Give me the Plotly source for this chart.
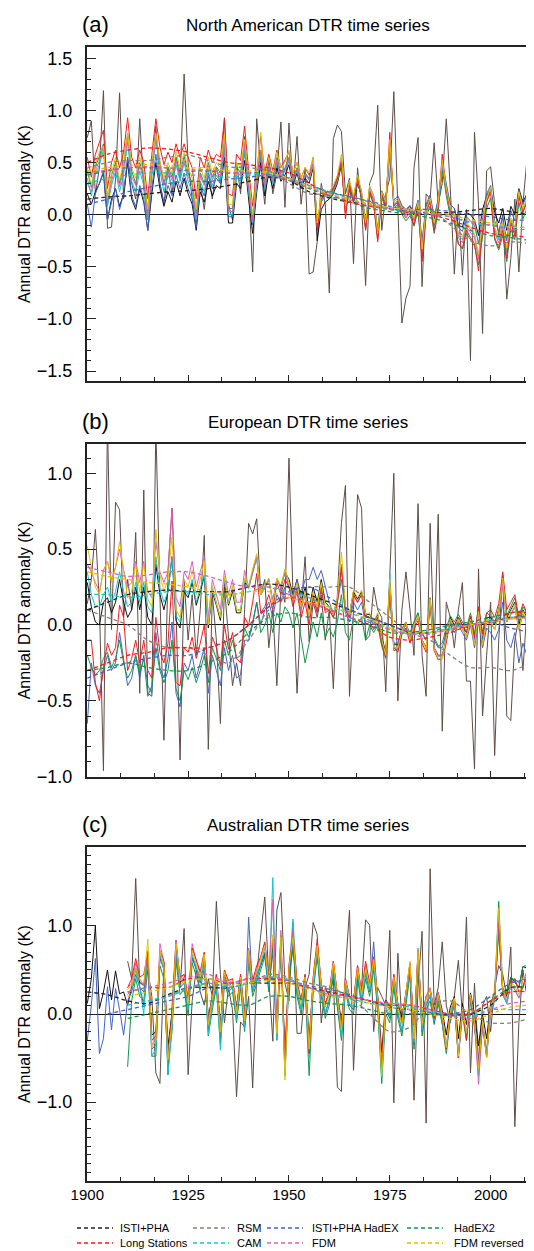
import plotly.graph_objects as go

FONT = "Liberation Sans, Arial, Helvetica, sans-serif"

YEARS = list(range(1900, 2011))
YEARS_5 = list(range(1900, 2011, 5))

# ---------------- (a) North America: annual values ----------------
NA_RSM = [0.74, 0.90, 0.20, 0.45, 1.19, -0.13, -0.12, 0.35, 1.17, 0.15,
          0.55, 0.30, 0.15, 0.92, 0.25, -0.05, 0.40, 0.85, 0.30, 0.10,
          0.45, 0.20, 0.55, 0.35, 1.35, 0.50, 0.15, -0.10, 0.30, 0.05,
          0.40, 0.15, 0.45, 0.30, 0.93, 0.10, -0.05, 0.50, 0.20, 0.75,
          0.25, -0.55, 0.92, 0.45, 0.10, 0.55, 0.20, 0.40, 0.89, 0.07,
          0.88, 0.25, 0.75, 0.10, 0.45, -0.57, -0.55, -0.26, 0.30, 0.10,
          -0.75, 0.73, 0.86, 0.80, 0.20, 0.35, -0.47, 0.45, 0.10, -0.68,
          0.30, 0.40, 1.05, -0.15, 0.20, 0.35, 1.18, 0.05, -1.04, -0.80,
          -0.69, 0.45, 0.74, -0.69, 0.20, 0.15, 0.69, 0.10, 0.30, 0.92,
          0.25, -0.57, 0.10, -0.58, 0.05, -1.40, 0.79, 0.10, -1.14, 0.42,
          0.46, 0.10, -0.20, 0.00, -0.81, -0.42, 0.15, -0.55, 0.10, 0.53,
          -1.40]
NA_ISTI = [0.20, 0.10, 0.22, 0.30, 0.40, -0.05, 0.15, 0.25, 0.08, 0.20,
           0.50, 0.15, 0.05, 0.25, 0.12, -0.15, 0.20, 0.50, 0.25, 0.08,
           0.22, 0.12, 0.32, 0.18, 0.35, 0.20, 0.10, -0.15, 0.22, 0.12,
           0.32, 0.18, 0.28, 0.25, 0.55, -0.08, -0.08, 0.30, 0.25, 0.52,
           0.15, -0.18, 0.22, 0.50, 0.18, 0.40, 0.25, 0.45, 0.32, 0.38,
           0.48, 0.28, 0.40, 0.25, 0.35, 0.30, 0.45, -0.25, 0.05, 0.12,
           0.15, 0.20, 0.30, 0.48, 0.05, 0.25, 0.12, 0.30, 0.18, -0.12,
           0.22, 0.15, -0.18, 0.20, 0.10, 0.62, 0.12, 0.16, 0.08, 0.04,
           0.08, 0.00, 0.12, -0.30, 0.08, 0.16, -0.04, 0.12, 0.45, 0.25,
           0.10, 0.06, -0.10, -0.12, 0.02, 0.00, -0.05, -0.20, 0.05, 0.18,
           0.25, 0.02, -0.08, 0.06, -0.15, 0.08, 0.00, 0.25, 0.12, 0.20,
           -0.20]
NA_HADEX = [0.10, -0.12, 0.20, 0.30, 0.42, -0.05, 0.12, 0.25, 0.05, 0.20,
            0.55, 0.18, 0.08, 0.28, 0.15, -0.15, 0.25, 0.58, 0.30, 0.12,
            0.28, 0.18, 0.38, 0.25, 0.40, 0.25, 0.15, -0.12, 0.28, 0.18,
            0.38, 0.25, 0.35, 0.30, 0.65, -0.02, -0.02, 0.36, 0.32, 0.60,
            0.22, -0.10, 0.28, 0.56, 0.24, 0.44, 0.30, 0.50, 0.36, 0.42,
            0.52, 0.33, 0.43, 0.29, 0.39, 0.34, 0.49, -0.08, 0.16, 0.21,
            0.21, 0.26, 0.36, 0.54, 0.08, 0.31, 0.17, 0.36, 0.22, -0.05,
            0.27, 0.18, -0.14, 0.23, 0.14, 0.66, 0.14, 0.18, 0.09, 0.05,
            0.09, 0.01, 0.14, -0.25, 0.10, 0.19, -0.02, 0.15, 0.50, 0.28,
            0.10, 0.06, -0.12, -0.16, -0.02, -0.06, -0.10, -0.28, -0.02, 0.20,
            0.28, -0.06, -0.16, -0.02, -0.25, 0.04, -0.06, 0.24, 0.10, 0.18,
            -0.30]
NA_HADEX2 = [0.42, 0.26, 0.46, 0.56, 0.68, 0.12, 0.38, 0.50, 0.30, 0.48,
             0.78, 0.42, 0.30, 0.50, 0.36, 0.02, 0.46, 0.75, 0.50, 0.30,
             0.46, 0.36, 0.55, 0.40, 0.56, 0.40, 0.30, 0.02, 0.40, 0.30,
             0.50, 0.36, 0.46, 0.40, 0.74, 0.06, 0.06, 0.46, 0.40, 0.68,
             0.30, -0.04, 0.35, 0.62, 0.30, 0.50, 0.35, 0.55, 0.40, 0.45,
             0.55, 0.35, 0.45, 0.30, 0.40, 0.35, 0.48, -0.12, 0.12, 0.18,
             0.18, 0.22, 0.32, 0.52, 0.02, 0.26, 0.12, 0.32, 0.16, -0.14,
             0.20, 0.10, -0.24, 0.16, 0.06, 0.66, 0.06, 0.10, 0.00, -0.06,
             -0.01, -0.11, 0.04, -0.42, -0.02, 0.08, -0.18, 0.03, 0.45, 0.18,
             -0.02, -0.08, -0.28, -0.33, -0.18, -0.24, -0.30, -0.48, -0.20, 0.06,
             0.16, -0.24, -0.34, -0.20, -0.45, -0.14, -0.24, 0.12, -0.04, 0.06,
             -0.56]
NA_LONG = [0.55, 0.36, 0.58, 0.70, 0.81, 0.25, 0.50, 0.62, 0.45, 0.60,
           0.93, 0.55, 0.45, 0.62, 0.50, 0.15, 0.58, 0.92, 0.65, 0.48,
           0.60, 0.50, 0.68, 0.55, 0.68, 0.55, 0.45, 0.15, 0.55, 0.45,
           0.62, 0.50, 0.58, 0.55, 0.92, 0.20, 0.18, 0.58, 0.52, 0.85,
           0.42, 0.08, 0.45, 0.75, 0.40, 0.58, 0.42, 0.62, 0.45, 0.52,
           0.60, 0.40, 0.50, 0.35, 0.45, 0.38, 0.55, -0.15, 0.15, 0.20,
           0.18, 0.25, 0.35, 0.50, -0.04, 0.28, 0.12, 0.35, 0.18, -0.15,
           0.22, 0.10, -0.26, 0.18, 0.08, 0.79, 0.08, 0.12, 0.02, -0.03,
           0.02, -0.10, 0.08, -0.45, 0.02, 0.12, -0.15, 0.08, 0.58, 0.25,
           0.02, -0.05, -0.28, -0.32, -0.15, -0.22, -0.28, -0.54, -0.15, 0.12,
           0.22, -0.22, -0.32, -0.15, -0.42, -0.08, -0.20, 0.18, 0.02, 0.12,
           -0.57]
NA_CAM = [0.35, 0.18, 0.38, 0.48, 0.62, 0.08, 0.28, 0.42, 0.22, 0.38,
          0.70, 0.32, 0.22, 0.42, 0.28, -0.05, 0.38, 0.72, 0.42, 0.22,
          0.38, 0.28, 0.48, 0.32, 0.50, 0.32, 0.22, -0.05, 0.32, 0.22,
          0.42, 0.28, 0.38, 0.32, 0.70, 0.00, 0.00, 0.38, 0.32, 0.62,
          0.22, -0.08, 0.28, 0.60, 0.25, 0.45, 0.30, 0.52, 0.36, 0.42,
          0.52, 0.32, 0.42, 0.28, 0.38, 0.33, 0.48, -0.12, 0.13, 0.18,
          0.18, 0.23, 0.33, 0.52, 0.04, 0.28, 0.14, 0.33, 0.18, -0.12,
          0.23, 0.14, -0.20, 0.18, 0.09, 0.66, 0.09, 0.14, 0.05, 0.00,
          0.05, -0.05, 0.09, -0.35, 0.05, 0.14, -0.10, 0.09, 0.48, 0.24,
          0.05, 0.00, -0.20, -0.24, -0.10, -0.14, -0.20, -0.40, -0.10, 0.14,
          0.24, -0.14, -0.24, -0.10, -0.34, -0.05, -0.14, 0.19, 0.05, 0.14,
          -0.44]
NA_FDM = [0.30, 0.22, 0.42, 0.52, 0.66, 0.12, 0.32, 0.47, 0.27, 0.42,
          0.76, 0.37, 0.28, 0.47, 0.33, -0.02, 0.43, 0.76, 0.47, 0.28,
          0.43, 0.33, 0.52, 0.37, 0.52, 0.37, 0.28, -0.02, 0.37, 0.28,
          0.47, 0.33, 0.43, 0.37, 0.72, 0.03, 0.03, 0.43, 0.37, 0.66,
          0.28, -0.06, 0.33, 0.62, 0.28, 0.48, 0.33, 0.53, 0.38, 0.44,
          0.54, 0.34, 0.44, 0.29, 0.39, 0.34, 0.49, -0.11, 0.14, 0.19,
          0.19, 0.24, 0.34, 0.54, 0.05, 0.29, 0.14, 0.34, 0.19, -0.11,
          0.24, 0.14, -0.21, 0.19, 0.09, 0.69, 0.09, 0.14, 0.04, -0.01,
          0.04, -0.06, 0.09, -0.37, 0.04, 0.14, -0.11, 0.09, 0.50, 0.24,
          0.04, -0.01, -0.22, -0.27, -0.12, -0.17, -0.22, -0.43, -0.12, 0.13,
          0.23, -0.17, -0.27, -0.12, -0.37, -0.07, -0.17, 0.18, 0.03, 0.13,
          -0.48]
NA_FDMR = [0.45, 0.28, 0.48, 0.60, 0.66, 0.15, 0.40, 0.55, 0.33, 0.50,
           0.78, 0.45, 0.35, 0.55, 0.40, 0.05, 0.50, 0.78, 0.52, 0.35,
           0.50, 0.40, 0.60, 0.45, 0.60, 0.45, 0.35, 0.05, 0.45, 0.35,
           0.55, 0.40, 0.50, 0.45, 0.78, 0.10, 0.10, 0.50, 0.45, 0.72,
           0.35, 0.00, 0.40, 0.79, 0.35, 0.55, 0.40, 0.60, 0.45, 0.50,
           0.62, 0.40, 0.50, 0.35, 0.45, 0.40, 0.55, -0.08, 0.18, 0.22,
           0.22, 0.28, 0.38, 0.58, 0.08, 0.33, 0.18, 0.38, 0.22, -0.08,
           0.28, 0.18, -0.18, 0.22, 0.12, 0.72, 0.12, 0.16, 0.07, 0.02,
           0.06, -0.03, 0.12, -0.33, 0.06, 0.16, -0.08, 0.12, 0.52, 0.26,
           0.06, 0.01, -0.18, -0.22, -0.08, -0.12, -0.18, -0.38, -0.08, 0.16,
           0.26, -0.12, -0.22, -0.08, -0.32, -0.03, -0.12, 0.22, 0.06, 0.16,
           -0.42]

# (a) smoothed values, every 5 years
NA_ISTI_S = [0.15, 0.17, 0.18, 0.20, 0.22, 0.23, 0.25, 0.28, 0.32, 0.36, 0.33, 0.22,
             0.16, 0.12, 0.10, 0.06, 0.03, 0.02, 0.02, 0.04, 0.06, 0.03, 0.00]
NA_RSM_S = [0.45, 0.50, 0.52, 0.52, 0.55, 0.57, 0.52, 0.46, 0.45, 0.42, 0.30, 0.20,
            0.20, 0.18, 0.12, 0.06, 0.02, 0.05, -0.10, -0.25, -0.30, -0.26, -0.28]
NA_HADEX_S = [0.10, 0.15, 0.22, 0.26, 0.30, 0.32, 0.32, 0.34, 0.36, 0.38, 0.35, 0.28,
              0.22, 0.17, 0.13, 0.08, 0.05, 0.05, 0.03, 0.00, -0.02, -0.05, -0.05]
NA_HADEX2_S = [0.38, 0.42, 0.45, 0.45, 0.45, 0.42, 0.42, 0.40, 0.40, 0.40, 0.35, 0.25,
               0.18, 0.12, 0.06, 0.03, 0.00, -0.03, -0.08, -0.15, -0.20, -0.22, -0.25]
NA_LONG_S = [0.50, 0.58, 0.62, 0.64, 0.63, 0.60, 0.55, 0.50, 0.48, 0.45, 0.40, 0.30,
             0.20, 0.12, 0.08, 0.05, 0.02, 0.00, -0.05, -0.12, -0.18, -0.20, -0.22]
NA_CAM_S = [0.30, 0.35, 0.38, 0.40, 0.40, 0.38, 0.38, 0.36, 0.38, 0.38, 0.35, 0.28,
            0.22, 0.15, 0.10, 0.05, 0.03, 0.00, -0.02, -0.08, -0.10, -0.12, -0.12]
NA_FDM_S = [0.40, 0.43, 0.45, 0.46, 0.45, 0.43, 0.43, 0.40, 0.40, 0.38, 0.33, 0.26,
            0.19, 0.14, 0.09, 0.06, 0.04, 0.01, -0.02, -0.07, -0.10, -0.14, -0.14]
NA_FDMR_S = [0.42, 0.45, 0.47, 0.48, 0.47, 0.45, 0.45, 0.42, 0.42, 0.40, 0.35, 0.27,
             0.20, 0.15, 0.10, 0.07, 0.05, 0.02, 0.00, -0.05, -0.08, -0.12, -0.12]

# ---------------- (b) Europe: annual values ----------------
EU_RSM = [0.14, 0.30, 0.63, 0.14, -0.96, 1.35, -0.03, 0.81, 0.76, 0.05,
          0.30, 0.10, 0.61, -0.45, 0.89, -0.45, -0.47, 1.30, 0.20, -0.76,
          0.35, 0.77, 0.10, -0.89, 0.30, -0.10, 0.20, -0.20, 0.10, 0.59,
          -0.82, 0.20, -0.10, -0.65, 0.25, -0.05, -0.40, -0.25, -0.40, 0.10,
          0.67, 0.60, 0.70, 0.20, 0.30, -0.15, 0.10, -0.40, 0.25, 0.15,
          1.10, 0.20, -0.45, 0.10, 0.45, -0.11, 0.15, 0.05, 0.20, -0.10,
          0.10, -0.42, 0.20, 0.67, 0.92, -0.47, 0.10, 0.86, 0.77, -0.10,
          -0.07, 0.25, 0.10, 0.05, -0.44, 0.33, 1.00, -0.50, 0.10, 0.35,
          0.10, -0.20, 0.80, -0.20, -0.47, 0.67, -0.16, 0.73, -0.70, 0.15,
          0.05, -0.15, 0.10, 0.28, -0.37, -0.37, -0.95, 0.37, -0.60, -0.20,
          0.15, -0.86, -0.10, 0.33, -0.60, -0.63, -0.10, 0.05, -0.30, 0.10,
          -0.50]
EU_ISTI = [0.28, 0.12, 0.02, 0.00, 0.15, 0.18, 0.08, 0.15, 0.30, 0.15,
           0.05, 0.10, 0.25, 0.10, 0.25, 0.05, 0.00, 0.40, 0.20, 0.10,
           0.22, 0.45, 0.03, -0.02, 0.22, 0.18, 0.28, 0.13, 0.22, 0.32,
           -0.02, 0.22, 0.13, 0.03, 0.28, 0.13, 0.22, 0.08, 0.08, 0.28,
           0.25, 0.35, 0.45, 0.20, 0.25, 0.30, 0.15, 0.30, 0.25, 0.35,
           0.30, 0.20, 0.30, 0.15, 0.25, 0.10, 0.25, 0.15, 0.30, 0.15,
           0.12, 0.07, 0.17, 0.37, 0.12, 0.07, 0.22, 0.17, 0.22, 0.07,
           0.07, 0.02, 0.07, -0.08, -0.18, 0.27, -0.13, -0.13, -0.03, 0.02,
           -0.10, 0.00, 0.05, -0.10, -0.15, 0.15, -0.15, -0.20, -0.20, -0.10,
           0.05, 0.00, 0.05, 0.00, -0.05, 0.05, -0.10, 0.10, -0.10, 0.05,
           0.05, 0.00, 0.10, 0.30, 0.05, 0.10, 0.15, 0.00, 0.10, 0.05,
           0.10]
EU_HADEX = [-0.65, -0.25, -0.40, -0.45, -0.30, -0.20, -0.30, -0.25, -0.05, -0.22,
            -0.40, -0.35, -0.20, -0.35, -0.20, -0.40, -0.45, -0.05, -0.28, -0.35,
            -0.22, 0.02, -0.45, -0.54, -0.25, -0.30, -0.20, -0.35, -0.25, -0.15,
            -0.45, -0.20, -0.30, -0.40, -0.15, -0.30, -0.20, -0.35, -0.33, -0.10,
            -0.10, 0.00, 0.15, 0.00, 0.10, 0.15, 0.05, 0.20, 0.15, 0.25,
            0.25, 0.20, 0.30, 0.20, 0.30, 0.30, 0.38, 0.30, 0.36, 0.25,
            0.15, 0.08, 0.15, 0.30, 0.08, 0.02, 0.15, 0.10, 0.15, 0.00,
            0.02, -0.03, 0.02, -0.12, -0.20, 0.20, -0.12, -0.12, -0.03, 0.00,
            -0.05, 0.02, 0.08, -0.05, -0.10, 0.15, -0.10, -0.15, -0.15, -0.05,
            0.00, -0.05, 0.00, -0.05, -0.10, 0.00, -0.15, 0.02, -0.15, -0.02,
            -0.05, -0.10, -0.03, 0.15, -0.10, -0.15, -0.05, -0.25, -0.12, -0.20,
            -0.05]
EU_HADEX2 = [-0.20, -0.28, -0.33, -0.30, -0.22, -0.18, -0.28, -0.22, -0.10, -0.25,
             -0.35, -0.30, -0.20, -0.32, -0.22, -0.47, -0.40, -0.15, -0.30, -0.38,
             -0.30, -0.10, -0.42, -0.50, -0.30, -0.36, -0.28, -0.38, -0.30, -0.20,
             -0.38, -0.15, -0.22, -0.30, -0.10, -0.20, -0.10, -0.22, -0.20, -0.02,
             -0.08, 0.02, 0.15, -0.05, 0.00, 0.08, -0.05, 0.08, 0.02, 0.12,
             0.08, -0.02, 0.08, -0.10, -0.25, -0.12, 0.02, -0.08, 0.08, -0.08,
             -0.02, -0.08, 0.02, 0.20, -0.05, -0.10, 0.05, 0.00, 0.05, -0.10,
             0.00, -0.05, 0.00, -0.14, -0.22, 0.20, -0.17, -0.16, -0.06, -0.02,
             -0.08, 0.02, 0.08, -0.06, -0.10, 0.18, -0.08, -0.14, -0.12, -0.02,
             0.06, 0.02, 0.07, 0.02, -0.02, 0.08, -0.06, 0.12, -0.05, 0.08,
             0.06, 0.02, 0.10, 0.30, 0.06, 0.12, 0.18, 0.02, 0.12, 0.08,
             0.15]
EU_LONG = [-0.10, -0.10, -0.38, -0.50, -0.28, -0.12, -0.20, -0.15, 0.13, 0.05,
           -0.30, -0.22, -0.10, -0.25, -0.10, -0.30, -0.35, 0.05, -0.18, -0.25,
           -0.12, 0.29, -0.38, -0.40, -0.15, -0.18, -0.08, -0.22, -0.12, 0.00,
           -0.32, -0.08, -0.15, -0.27, 0.00, -0.16, -0.05, -0.22, -0.25, 0.05,
           0.00, 0.15, 0.34, 0.08, 0.12, 0.20, 0.10, 0.28, 0.20, 0.30,
           0.25, 0.12, 0.22, 0.05, 0.15, 0.00, 0.18, 0.08, 0.25, 0.08,
           0.10, 0.05, 0.15, 0.38, 0.10, 0.05, 0.20, 0.15, 0.20, 0.05,
           0.05, 0.00, 0.05, -0.12, -0.21, 0.28, -0.15, -0.18, -0.06, -0.02,
           -0.12, -0.03, 0.03, -0.12, -0.18, 0.14, -0.17, -0.23, -0.22, -0.12,
           0.04, -0.01, 0.05, 0.00, -0.05, 0.06, -0.08, 0.12, -0.06, 0.08,
           0.10, 0.05, 0.14, 0.35, 0.10, 0.15, 0.20, 0.05, 0.14, 0.08,
           0.18]
EU_CAM = [0.35, 0.20, 0.12, 0.12, 0.20, 0.25, 0.15, 0.22, 0.35, 0.22,
          0.12, 0.15, 0.28, 0.15, 0.28, 0.12, 0.08, 0.45, 0.24, 0.15,
          0.22, 0.45, 0.06, 0.02, 0.24, 0.20, 0.30, 0.15, 0.24, 0.33,
          0.00, 0.24, 0.15, 0.05, 0.30, 0.15, 0.24, 0.10, 0.10, 0.30,
          0.24, 0.35, 0.44, 0.20, 0.24, 0.30, 0.15, 0.30, 0.24, 0.35,
          0.25, 0.15, 0.25, 0.10, 0.20, 0.05, 0.20, 0.10, 0.25, 0.10,
          0.10, 0.05, 0.15, 0.38, 0.10, 0.05, 0.20, 0.15, 0.20, 0.05,
          0.05, 0.00, 0.05, -0.10, -0.20, 0.34, -0.15, -0.16, -0.05, 0.00,
          -0.10, 0.00, 0.05, -0.10, -0.15, 0.16, -0.15, -0.21, -0.20, -0.10,
          0.03, -0.02, 0.03, -0.02, -0.07, 0.03, -0.12, 0.08, -0.12, 0.03,
          0.02, -0.03, 0.07, 0.28, 0.02, 0.07, 0.12, -0.03, 0.07, 0.02,
          0.16]
EU_FDM = [0.40, 0.35, 0.28, 0.22, 0.36, 0.42, 0.30, 0.38, 0.50, 0.36,
          0.25, 0.28, 0.42, 0.28, 0.42, 0.22, 0.18, 0.55, 0.35, 0.28,
          0.35, 0.77, 0.18, 0.12, 0.35, 0.30, 0.42, 0.25, 0.35, 0.45,
          0.05, 0.30, 0.20, 0.10, 0.36, 0.20, 0.30, 0.15, 0.15, 0.36,
          0.25, 0.35, 0.45, 0.20, 0.25, 0.30, 0.15, 0.30, 0.25, 0.35,
          0.25, 0.15, 0.25, 0.10, 0.20, 0.05, 0.20, 0.10, 0.25, 0.10,
          0.10, 0.05, 0.15, 0.40, 0.10, 0.05, 0.20, 0.15, 0.20, 0.05,
          0.05, 0.00, 0.05, -0.10, -0.20, 0.25, -0.15, -0.15, -0.05, 0.00,
          -0.10, 0.00, 0.05, -0.10, -0.15, 0.15, -0.15, -0.20, -0.20, -0.10,
          0.02, -0.03, 0.02, -0.03, -0.08, 0.02, -0.13, 0.07, -0.13, 0.02,
          0.02, -0.03, 0.07, 0.27, 0.02, 0.07, 0.12, -0.03, 0.07, 0.02,
          0.17]
EU_FDMR = [0.52, 0.38, 0.25, 0.20, 0.36, 0.42, 0.28, 0.38, 0.55, 0.36,
           0.18, 0.22, 0.40, 0.22, 0.40, 0.17, 0.12, 0.63, 0.33, 0.22,
           0.30, 0.58, 0.10, 0.05, 0.30, 0.25, 0.36, 0.20, 0.30, 0.42,
           0.00, 0.26, 0.14, 0.05, 0.32, 0.14, 0.26, 0.10, 0.09, 0.31,
           0.26, 0.37, 0.47, 0.20, 0.26, 0.31, 0.14, 0.31, 0.26, 0.37,
           0.28, 0.17, 0.28, 0.12, 0.22, 0.06, 0.22, 0.12, 0.28, 0.12,
           0.12, 0.07, 0.18, 0.48, 0.12, 0.07, 0.23, 0.18, 0.23, 0.07,
           0.08, 0.02, 0.08, -0.09, -0.20, 0.30, -0.15, -0.15, -0.04, 0.02,
           -0.10, 0.00, 0.06, -0.10, -0.16, 0.17, -0.16, -0.22, -0.22, -0.10,
           0.04, -0.02, 0.04, -0.02, -0.08, 0.04, -0.13, 0.09, -0.13, 0.04,
           0.03, -0.03, 0.09, 0.31, 0.03, 0.09, 0.14, -0.03, 0.09, 0.03,
           0.21]

EU_ISTI_S = [0.10, 0.15, 0.20, 0.22, 0.23, 0.22, 0.22, 0.22, 0.25, 0.27, 0.25, 0.20,
             0.15, 0.10, 0.05, 0.00, -0.05, -0.05, -0.03, 0.00, 0.02, 0.05, 0.05]
EU_RSM_S = [0.10, 0.05, 0.00, -0.10, -0.15, -0.15, -0.20, -0.25, -0.10, 0.10, 0.20, 0.25,
            0.25, 0.25, 0.15, 0.05, -0.05, -0.10, -0.20, -0.28, -0.28, -0.30, -0.25]
EU_HADEX_S = [-0.35, -0.30, -0.25, -0.22, -0.20, -0.20, -0.15, -0.10, 0.00, 0.12, 0.22, 0.25,
              0.18, 0.10, 0.05, 0.00, -0.05, -0.05, 0.00, 0.00, 0.02, -0.02, -0.05]
EU_HADEX2_S = [-0.30, -0.28, -0.25, -0.28, -0.30, -0.30, -0.25, -0.18, -0.05, 0.05, 0.08, 0.05,
               0.05, 0.03, 0.00, -0.05, -0.05, -0.03, 0.00, 0.02, 0.05, 0.08, 0.10]
EU_LONG_S = [-0.30, -0.25, -0.20, -0.18, -0.15, -0.15, -0.15, -0.10, 0.00, 0.12, 0.18, 0.15,
             0.10, 0.05, 0.00, -0.08, -0.10, -0.08, -0.05, 0.00, 0.02, 0.08, 0.08]
EU_CAM_S = [0.20, 0.20, 0.18, 0.20, 0.22, 0.22, 0.20, 0.20, 0.22, 0.25, 0.22, 0.18,
            0.12, 0.08, 0.03, -0.03, -0.06, -0.05, -0.02, 0.00, 0.03, 0.05, 0.05]
EU_FDM_S = [0.38, 0.35, 0.32, 0.33, 0.35, 0.35, 0.32, 0.28, 0.25, 0.25, 0.20, 0.15,
            0.10, 0.05, 0.02, -0.03, -0.06, -0.06, -0.03, 0.00, 0.02, 0.04, 0.05]
EU_FDMR_S = [0.35, 0.32, 0.30, 0.28, 0.27, 0.25, 0.22, 0.20, 0.22, 0.22, 0.18, 0.15,
             0.12, 0.08, 0.04, -0.02, -0.05, -0.05, -0.03, 0.00, 0.02, 0.04, 0.05]

# ---------------- (c) Australia: annual values ----------------
AU_RSM = [None] * 10 + [
          0.60, 0.40, 1.54, 0.31, 0.10, 0.50, 0.20, -0.67, -0.79, 0.58,
          -0.69, 0.10, 0.84, 0.30, 0.97, -0.69, 0.15, 0.50, 0.25, 0.10,
          0.40, 0.20, 1.28, 0.45, -0.10, 0.30, 0.05, -0.94, -0.09, -0.15,
          0.20, -0.84, 0.45, 0.90, 1.33, 0.40, -0.31, 1.18, 1.38, 0.35,
          0.15, 1.04, -0.22, -0.22, 0.30, 0.45, 1.04, 0.90, -0.10, 0.30,
          0.20, 0.40, -0.83, -0.88, 0.50, 1.18, -0.64, 0.40, 0.30, 1.07,
          1.01, -0.20, 0.30, 0.20, 0.10, 0.95, -1.01, 0.69, -0.10, 0.20,
          0.50, -0.98, 0.30, 0.94, -1.24, 1.65, 0.10, 0.30, 0.82, 0.10,
          -0.10, 0.20, 0.61, 0.00, 1.10, -0.67, 0.35, -0.56, 0.10, 0.20,
          -0.20, 0.30, 0.55, 0.45, 0.20, 0.76, -1.28, -0.10, 0.50, 0.20,
          -0.40]
AU_ISTI = [0.12, 0.40, 1.00, 0.06, 0.25, 0.50, 0.16, 0.49, 0.23, 0.25,
           0.10, 0.32, 0.52, 0.36, 0.32, 0.68, -0.24, -0.20, 0.64, 0.52,
           -0.36, 0.00, 0.68, 0.36, 0.40, 0.16, 0.64, 0.52, 0.40, 0.60,
           -0.04, 0.20, 0.40, -0.12, 0.44, 0.32, 0.36, 0.08, 0.40, 0.00,
           0.64, 0.32, 0.44, 0.56, 0.68, 0.36, 0.75, -0.12, 0.76, -0.44,
           0.48, 0.76, 0.32, 0.16, 0.40, -0.28, 0.36, 0.68, 0.32, 0.12,
           0.24, 0.52, 0.24, -0.08, 0.36, 0.20, 0.16, 0.48, 0.24, 0.48,
           0.32, 0.56, 0.20, -0.44, 0.16, 0.08, 0.40, 0.12, -0.04, 0.24,
           0.52, -0.16, 0.64, -0.04, 0.20, 0.28, 0.04, 0.24, 0.04, -0.24,
           0.08, 0.20, -0.28, 0.12, -0.12, 0.24, 0.00, -0.36, 0.00, -0.28,
           0.12, 0.24, 0.96, 0.28, 0.20, 0.42, 0.36, 0.30, 0.54, 0.52,
           -0.30]
AU_HADEX = [-0.30, 0.10, 0.63, -0.45, -0.28, 0.31, -0.18, 0.29, 0.05, -0.24,
            0.15, 0.25, 0.45, 0.30, 0.25, 0.60, -0.40, -0.35, 0.65, 0.50,
            -0.55, -0.12, 0.70, 0.30, 0.35, 0.05, 0.65, 0.50, 0.35, 0.60,
            -0.18, 0.10, 0.35, -0.28, 0.40, 0.25, 0.30, -0.05, 0.35, -0.12,
            1.10, 0.25, 0.40, 0.55, 0.70, 0.30, 0.70, -0.30, 0.80, -0.65,
            0.45, 0.80, 0.25, 0.05, 0.35, -0.45, 0.30, 0.70, 0.25, 0.00,
            0.15, 0.50, 0.15, -0.25, 0.30, 0.10, 0.05, 0.45, 0.15, 0.45,
            0.25, 0.82, 0.10, -0.65, 0.05, -0.05, 0.35, 0.00, -0.20, 0.15,
            0.50, -0.35, 0.65, -0.20, 0.10, 0.20, -0.10, 0.15, -0.10, -0.40,
            -0.05, 0.10, -0.45, 0.00, -0.25, 0.15, -0.15, -0.55, -0.15, -0.45,
            0.00, 0.15, 1.00, 0.22, 0.12, 0.35, 0.40, 0.35, 0.40, 0.35,
            -0.26]
AU_HADEX2 = [None] * 10 + [
             -0.60, 0.15, 0.40, 0.20, 0.15, 0.65, -0.48, -0.48, 0.55, 0.40,
             -0.60, -0.20, 0.60, 0.22, 0.28, -0.02, 0.58, 0.42, 0.28, 0.52,
             -0.25, 0.05, 0.30, -0.35, 0.35, 0.20, 0.25, -0.10, 0.30, -0.20,
             0.60, 0.20, 0.35, 0.50, 0.65, 0.25, 0.80, -0.18, 0.75, -0.70,
             0.40, 0.75, 0.20, 0.00, 0.30, -0.70, 0.25, 0.65, 0.20, -0.05,
             0.10, 0.45, 0.10, -0.30, 0.25, 0.05, 0.00, 0.40, 0.10, 0.40,
             0.20, 0.50, 0.05, -0.79, 0.00, -0.10, 0.30, -0.05, -0.25, 0.10,
             0.45, -0.40, 0.60, -0.25, 0.05, 0.15, -0.12, 0.12, -0.12, -0.45,
             -0.05, 0.10, -0.50, 0.00, -0.30, 0.15, -0.12, -0.58, -0.10, -0.42,
             0.10, 0.25, 1.28, 0.30, 0.22, 0.42, 0.38, 0.30, 0.54, 0.55,
             -0.60]
AU_LONG = [None] * 10 + [
           0.30, 0.40, 0.63, 0.42, 0.45, 0.70, -0.30, -0.25, 0.72, 0.60,
           -0.45, -0.02, 0.78, 0.42, 0.45, 0.18, 0.75, 0.62, 0.48, 0.70,
           -0.08, 0.22, 0.45, -0.15, 0.50, 0.38, 0.40, 0.08, 0.45, -0.02,
           0.72, 0.38, 0.55, 0.65, 0.82, 0.42, 0.85, -0.15, 0.88, -0.55,
           0.55, 0.88, 0.38, 0.15, 0.45, -0.45, 0.42, 0.85, 0.35, 0.10,
           0.25, 0.60, 0.25, -0.15, 0.40, 0.20, 0.15, 0.55, 0.25, 0.60,
           0.35, 0.65, 0.20, -0.60, 0.15, 0.05, 0.45, 0.10, -0.10, 0.25,
           0.58, -0.25, 0.72, -0.12, 0.18, 0.28, -0.05, 0.22, -0.05, -0.40,
           0.02, 0.18, -0.50, 0.08, -0.30, 0.22, -0.10, -0.60, -0.12, -0.48,
           0.08, 0.22, 1.05, 0.28, 0.18, 0.38, 0.40, 0.25, 0.30, 0.50,
           -0.55]
AU_CAM = [None] * 10 + [
          0.22, 0.28, 0.50, 0.30, 0.00, 0.70, -0.48, -0.40, 0.68, 0.50,
          -0.69, -0.15, 0.72, 0.32, 0.38, 0.05, 0.68, 0.52, 0.38, 0.62,
          -0.24, 0.10, 0.38, -0.41, 0.42, 0.28, 0.32, -0.05, 0.38, -0.15,
          0.68, 0.28, 0.42, 0.58, 0.75, 0.32, 1.55, -0.28, 0.90, -0.70,
          0.48, 1.08, 0.28, 0.05, 0.38, -0.50, 0.32, 0.72, 0.28, 0.02,
          0.18, 0.52, 0.18, -0.25, 0.32, 0.12, 0.08, 0.48, 0.18, 0.48,
          0.28, 0.58, 0.12, -0.72, 0.08, -0.02, 0.38, 0.02, -0.18, 0.18,
          0.52, -0.32, 0.75, -0.18, 0.12, 0.22, -0.08, 0.18, -0.08, -0.42,
          -0.02, 0.12, -0.48, 0.02, -0.28, 0.18, -0.12, -0.70, -0.12, -0.48,
          0.02, 0.18, 1.10, 0.22, 0.12, 0.32, 0.28, 0.18, 0.32, 0.42,
          -0.90]
AU_FDM = [None] * 10 + [
          0.30, 0.35, 0.58, 0.40, 0.32, 0.72, -0.35, -0.30, 0.80, 0.58,
          -0.50, -0.05, 0.84, 0.40, 0.45, 0.15, 0.80, 0.60, 0.45, 0.70,
          -0.10, 0.20, 0.45, -0.20, 0.50, 0.35, 0.40, 0.05, 0.45, -0.05,
          0.75, 0.35, 0.50, 0.65, 0.80, 0.40, 1.30, -0.20, 0.95, -0.60,
          0.55, 0.95, 0.35, 0.15, 0.45, -0.40, 0.40, 0.80, 0.35, 0.10,
          0.25, 0.60, 0.25, -0.15, 0.40, 0.20, 0.15, 0.55, 0.25, 0.55,
          0.35, 0.65, 0.20, -0.60, 0.15, 0.05, 0.45, 0.10, -0.10, 0.25,
          0.58, -0.25, 0.72, -0.10, 0.20, 0.30, 0.00, 0.25, 0.00, -0.38,
          0.02, 0.18, -0.45, 0.05, -0.25, 0.20, -0.10, -0.80, -0.10, -0.50,
          0.05, 0.20, 1.05, 0.25, 0.15, 0.32, 0.28, 0.18, 0.30, 0.42,
          -0.80]
AU_FDMR = [None] * 10 + [
           0.28, 0.32, 0.52, 0.38, 0.35, 0.85, -0.38, -0.30, 0.72, 0.55,
           -0.52, -0.08, 0.80, 0.38, 0.42, 0.12, 0.72, 0.58, 0.42, 0.68,
           -0.12, 0.18, 0.42, -0.20, 0.48, 0.32, 0.38, 0.02, 0.42, -0.08,
           0.72, 0.32, 0.48, 0.62, 0.78, 0.38, 0.90, -0.22, 0.88, -0.75,
           0.52, 0.88, 0.32, 0.12, 0.42, -0.40, 0.38, 0.78, 0.32, 0.08,
           0.22, 0.58, 0.22, -0.18, 0.38, 0.18, 0.12, 0.52, 0.22, 0.52,
           0.32, 0.62, 0.18, -0.70, 0.12, 0.02, 0.42, 0.08, -0.12, 0.22,
           0.60, -0.28, 0.72, -0.12, 0.18, 0.28, -0.02, 0.22, -0.02, -0.38,
           0.02, 0.18, -0.48, 0.08, -0.22, 0.22, -0.08, -0.62, -0.08, -0.50,
           0.08, 0.22, 1.20, 0.28, 0.18, 0.35, 0.32, 0.22, 0.38, 0.45,
           -1.18]

AU_ISTI_S = [0.25, 0.22, 0.15, 0.12, 0.22, 0.30, 0.30, 0.30, 0.35, 0.35, 0.35, 0.30,
             0.25, 0.20, 0.15, 0.08, 0.05, 0.00, 0.00, 0.00, 0.10, 0.30, 0.30]
AU_RSM_S = [None, None, None, 0.15, 0.20, 0.28, 0.35, 0.30, 0.35, 0.45, 0.42, 0.35,
            0.30, 0.20, 0.00, -0.20, -0.15, 0.10, 0.15, 0.00, -0.10, -0.10, -0.05]
AU_HADEX_S = [None, 0.00, 0.05, 0.10, 0.15, 0.20, 0.30, 0.35, 0.35, 0.40, 0.38, 0.32,
              0.28, 0.22, 0.15, 0.08, 0.05, 0.02, 0.00, 0.05, 0.20, 0.35, 0.40]
AU_HADEX2_S = [None, None, -0.05, 0.00, 0.05, 0.10, 0.15, 0.12, 0.10, 0.20, 0.20, 0.15,
               0.12, 0.10, 0.05, 0.00, 0.00, 0.00, -0.02, 0.00, 0.15, 0.30, 0.30]
AU_LONG_S = [None, None, 0.25, 0.30, 0.30, 0.40, 0.40, 0.35, 0.40, 0.40, 0.35, 0.30,
             0.25, 0.20, 0.15, 0.10, 0.10, 0.05, 0.00, 0.00, 0.15, 0.25, 0.25]
AU_CAM_S = [None, None, 0.10, 0.15, 0.20, 0.30, 0.35, 0.30, 0.35, 0.42, 0.40, 0.30,
            0.22, 0.18, 0.12, 0.10, 0.08, 0.02, 0.00, -0.02, 0.05, 0.05, 0.05]
AU_FDM_S = [None, None, 0.25, 0.30, 0.35, 0.42, 0.45, 0.35, 0.40, 0.42, 0.38, 0.30,
            0.22, 0.20, 0.15, 0.12, 0.10, 0.05, -0.02, -0.05, 0.05, 0.12, 0.15]
AU_FDMR_S = [None, None, 0.20, 0.25, 0.30, 0.38, 0.40, 0.32, 0.35, 0.38, 0.35, 0.28,
             0.20, 0.18, 0.12, 0.08, 0.05, 0.00, -0.05, -0.08, 0.00, 0.08, 0.10]

# ---------------- styling ----------------
SOLID_COLORS = {"RSM": "#5e4d48", "ISTI+PHA": "#111111", "ISTI+PHA HadEX": "#4264c4",
                "HadEX2": "#14964a", "CAM": "#12c4cc", "FDM": "#df5db4",
                "Long Stations": "#f41c1c", "FDM reversed": "#e3c100"}
DASH_COLORS = dict(SOLID_COLORS, **{"RSM": "#8a7e7a", "ISTI+PHA": "#222222"})
SOLID_ORDER = ["RSM", "ISTI+PHA", "ISTI+PHA HadEX", "HadEX2", "CAM", "FDM",
               "Long Stations", "FDM reversed"]
DASH = "4px,3px"
# legend key: (name, line start x, text x, centre y) in page pixels
LEGEND_SLOTS = [("ISTI+PHA", 77, 118, 1228), ("RSM", 193, 235, 1228),
                ("ISTI+PHA HadEX", 267, 310, 1228), ("HadEX2", 407, 452, 1228),
                ("Long Stations", 77, 118, 1243), ("CAM", 193, 235, 1243),
                ("FDM", 267, 310, 1243), ("FDM reversed", 407, 452, 1243)]

PANELS = [
    dict(title="North American DTR time series", letter="(a)", top=47.3, bottom=380.7,
         yrange=[-1.593, 1.606], dtick=0.5,
         solid={"RSM": NA_RSM, "ISTI+PHA": NA_ISTI, "ISTI+PHA HadEX": NA_HADEX,
                "HadEX2": NA_HADEX2, "Long Stations": NA_LONG, "CAM": NA_CAM,
                "FDM": NA_FDM, "FDM reversed": NA_FDMR},
         smooth={"RSM": NA_RSM_S, "ISTI+PHA": NA_ISTI_S, "ISTI+PHA HadEX": NA_HADEX_S,
                 "HadEX2": NA_HADEX2_S, "Long Stations": NA_LONG_S, "CAM": NA_CAM_S,
                 "FDM": NA_FDM_S, "FDM reversed": NA_FDMR_S}),
    dict(title="European DTR time series", letter="(b)", top=444.0, bottom=776.7,
         yrange=[-1.0, 1.193], dtick=0.5,
         solid={"RSM": EU_RSM, "ISTI+PHA": EU_ISTI, "ISTI+PHA HadEX": EU_HADEX,
                "HadEX2": EU_HADEX2, "Long Stations": EU_LONG, "CAM": EU_CAM,
                "FDM": EU_FDM, "FDM reversed": EU_FDMR},
         smooth={"RSM": EU_RSM_S, "ISTI+PHA": EU_ISTI_S, "ISTI+PHA HadEX": EU_HADEX_S,
                 "HadEX2": EU_HADEX2_S, "Long Stations": EU_LONG_S, "CAM": EU_CAM_S,
                 "FDM": EU_FDM_S, "FDM reversed": EU_FDMR_S}),
    dict(title="Australian DTR time series", letter="(c)", top=847.3, bottom=1180.7,
         yrange=[-1.894, 1.894], dtick=1.0,
         solid={"RSM": AU_RSM, "ISTI+PHA": AU_ISTI, "ISTI+PHA HadEX": AU_HADEX,
                "HadEX2": AU_HADEX2, "Long Stations": AU_LONG, "CAM": AU_CAM,
                "FDM": AU_FDM, "FDM reversed": AU_FDMR},
         smooth={"RSM": AU_RSM_S, "ISTI+PHA": AU_ISTI_S, "ISTI+PHA HadEX": AU_HADEX_S,
                 "HadEX2": AU_HADEX2_S, "Long Stations": AU_LONG_S, "CAM": AU_CAM_S,
                 "FDM": AU_FDM_S, "FDM reversed": AU_FDMR_S}),
]

# the page body has an 8px margin, so the figure is drawn 8px in from the corner
PAGE_OFF = 8
W, H = 534 - PAGE_OFF, 1251 - PAGE_OFF
X_LEFT = 86.7


def fx(px):
    return (px - PAGE_OFF) / W


def fy(py):
    return 1 - (py - PAGE_OFF) / H


fig = go.Figure()
layout = {}
annotations = []
shapes = []

for i, p in enumerate(PANELS):
    n = "" if i == 0 else str(i + 1)
    xa, ya = f"x{n}", f"y{n}"

    # annual series (solid)
    for name in SOLID_ORDER:
        fig.add_trace(go.Scatter(
            x=YEARS, y=p["solid"][name], mode="lines", name=name,
            line=dict(color=SOLID_COLORS[name], width=1),
            xaxis=xa, yaxis=ya, showlegend=False, hoverinfo="skip"))
    # smoothed series (dashed)
    for name, _, _, _ in LEGEND_SLOTS:
        fig.add_trace(go.Scatter(
            x=YEARS_5, y=p["smooth"][name], mode="lines", name=name,
            line=dict(color=DASH_COLORS[name], width=1.3, dash=DASH,
                      shape="spline", smoothing=0.8),
            xaxis=xa, yaxis=ya, showlegend=False, hoverinfo="skip"))

    layout[f"xaxis{n}"] = dict(
        domain=[fx(X_LEFT), 1.0], anchor=ya, range=[1899.85, 2010.75],
        tick0=1900, dtick=25, ticks="inside", ticklen=6, tickwidth=1, tickcolor="#222",
        showline=True, linecolor="#222", linewidth=1.5, mirror=True,
        showgrid=False, zeroline=False, showticklabels=(i == 2),
        tickfont=dict(size=15, color="black"),
        minor=dict(tick0=1900, dtick=25 / 3, ticks="inside", ticklen=3.5,
                   tickcolor="#222", showgrid=False))
    layout[f"yaxis{n}"] = dict(
        domain=[fy(p["bottom"]), fy(p["top"])], anchor=xa, range=p["yrange"],
        tick0=0, dtick=p["dtick"], tickformat=".1f", ticks="inside", ticklen=10,
        tickwidth=1, tickcolor="#222", ticklabelstandoff=9,
        showline=True, linecolor="#222", linewidth=1.5,
        showgrid=False, zeroline=True, zerolinecolor="#111", zerolinewidth=1.2,
        tickfont=dict(size=18, color="black"),
        minor=dict(tick0=0, dtick=0.1, ticks="inside", ticklen=5, tickcolor="#222",
                   showgrid=False))

    title_y = p["top"] - 23
    annotations.append(dict(text=p["letter"], x=fx(80), y=fy(title_y),
                            xref="paper", yref="paper", xanchor="left", yanchor="middle",
                            showarrow=False, font=dict(size=22, color="black")))
    annotations.append(dict(text=p["title"], x=fx(308), y=fy(title_y + 1),
                            xref="paper", yref="paper", xanchor="center", yanchor="middle",
                            showarrow=False, font=dict(size=17, color="black")))
    annotations.append(dict(text="Annual DTR anomaly (K)", textangle=-90,
                            x=fx(24), y=fy((p["top"] + p["bottom"]) / 2),
                            xref="paper", yref="paper", xanchor="center", yanchor="middle",
                            showarrow=False, font=dict(size=16, color="black")))

# legend key for the dashed (smoothed) series
for name, lx, tx, ly in LEGEND_SLOTS:
    shapes.append(dict(type="line", xref="paper", yref="paper",
                       x0=fx(lx), x1=fx(lx + 36), y0=fy(ly), y1=fy(ly),
                       line=dict(color=DASH_COLORS[name], width=1.3, dash=DASH)))
    annotations.append(dict(text=name, x=fx(tx), y=fy(ly), xref="paper", yref="paper",
                            xanchor="left", yanchor="middle", showarrow=False,
                            font=dict(size=11, color="black")))

fig.update_layout(
    width=W, height=H, margin=dict(l=0, r=0, t=0, b=0, autoexpand=False),
    paper_bgcolor="white", plot_bgcolor="white", showlegend=False,
    font=dict(family=FONT, size=15, color="black"),
    annotations=annotations, shapes=shapes, **layout)

fig.write_html("out.html")
